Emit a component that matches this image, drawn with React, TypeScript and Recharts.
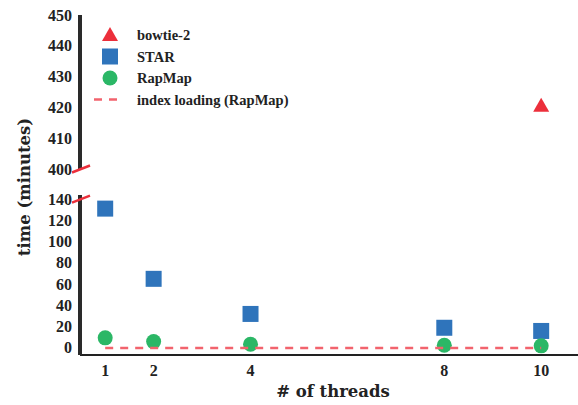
import React from "react";
import { ScatterChart, Scatter, XAxis, YAxis, Legend, Label } from "recharts";

// x = number of threads, y = wall time in minutes
const threads = [1, 2, 4, 8, 10];
const starTimes = [131, 65, 32, 19, 16];
const rapmapTimes = [9.5, 6, 3.5, 2.5, 2];
const bowtieThreads = [10];
const bowtieTimes = [420.5];
const indexLoadThreads = [1, 10];
const indexLoadTimes = [0, 0];

const upperTicks = [400, 410, 420, 430, 440, 450];
const lowerTicks = [0, 20, 40, 60, 80, 100, 120, 140];

const toPoints = (xs: number[], ys: number[]) => xs.map((x, i) => ({ x, y: ys[i] }));

const starData = toPoints(threads, starTimes);
const rapmapData = toPoints(threads, rapmapTimes);
const bowtieData = toPoints(bowtieThreads, bowtieTimes);
const indexData = toPoints(indexLoadThreads, indexLoadTimes);

const RED = "#ec2f3b";
const BLUE = "#2f74bb";
const GREEN = "#2bb766";
const PINK = "#f2636d";
const INK = "#222";
const FONT = "'Liberation Serif', serif";
const LABEL_FONT = "'DejaVu Serif', serif";

const X_DOMAIN: [number, number] = [0.48, 10.76];
const Y_AXIS_LINE = { stroke: "#2a2a2a", strokeWidth: 4 };

const Square = (p: any) => <rect x={p.cx - 8} y={p.cy - 8} width={16} height={16} fill={BLUE} />;
const Dot = (p: any) => <circle cx={p.cx} cy={p.cy} r={7.5} fill={GREEN} />;
const Tri = (p: any) => (
  <polygon points={`${p.cx},${p.cy - 8} ${p.cx + 8},${p.cy + 6} ${p.cx - 8},${p.cy + 6}`} fill={RED} />
);
const NoShape = () => <g />;

// tick label + the red "//" break mark on the panel edge
function BreakTick(props: any) {
  const { x, y, payload, breakAt } = props;
  return (
    <g>
      <text x={x} y={y} dy={5.5} textAnchor="end" fontFamily={FONT} fontWeight="bold" fontSize={16} fill={INK}>
        {payload.value}
      </text>
      {payload.value === breakAt && (
        <line x1={x} y1={y + 3.5} x2={x + 18} y2={y - 3.5} stroke={RED} strokeWidth={2.5} />
      )}
    </g>
  );
}

const legendItems = [
  { name: "bowtie-2", kind: "tri" },
  { name: "STAR", kind: "square" },
  { name: "RapMap", kind: "circle" },
  { name: "index loading (RapMap)", kind: "dash" },
];

function LegendBox() {
  return (
    <svg width={240} height={90} style={{ display: "block" }}>
      {legendItems.map((it, i) => {
        const cy = 10 + i * 21.5;
        const cx = 22;
        return (
          <g key={it.name}>
            {it.kind === "tri" && <Tri cx={cx} cy={cy} />}
            {it.kind === "square" && <Square cx={cx} cy={cy} />}
            {it.kind === "circle" && <Dot cx={cx} cy={cy} />}
            {it.kind === "dash" && (
              <line x1={cx - 16} y1={cy} x2={cx + 14} y2={cy} stroke={PINK} strokeWidth={2.5} strokeDasharray="8 7" />
            )}
            <text x={49} y={cy + 5} fontFamily={FONT} fontWeight="bold" fontSize={14.5} fill={INK}>
              {it.name}
            </text>
          </g>
        );
      })}
    </svg>
  );
}

export default function App() {
  return (
    <div style={{ position: "absolute", left: 0, top: 0, width: 578, height: 405, background: "#fff" }}>
      {/* upper panel: 400-450 */}
      <div style={{ position: "absolute", left: 0, top: 0 }}>
        <ScatterChart width={578} height={180} margin={{ top: 15, right: 0, bottom: 0, left: 0 }}>
          <XAxis
            type="number"
            dataKey="x"
            domain={X_DOMAIN}
            ticks={threads}
            allowDataOverflow
            height={11}
            axisLine={false}
            tick={false}
            tickSize={1}
            tickLine={{ stroke: "#555" }}
          />
          <YAxis
            type="number"
            dataKey="y"
            domain={[400, 450]}
            ticks={upperTicks}
            interval={0}
            allowDataOverflow
            width={80}
            axisLine={Y_AXIS_LINE}
            tickLine={false}
            tickSize={0}
            tickMargin={8}
            tick={<BreakTick breakAt={400} />}
          />
          <Legend
            layout="horizontal"
            verticalAlign="middle"
            align="center"
            content={() => <LegendBox />}
            wrapperStyle={{ left: 88, top: 25, width: 240 }}
          />
          <Scatter data={bowtieData} shape={Tri} isAnimationActive={false} />
        </ScatterChart>
      </div>
      {/* lower panel: 0-140 */}
      <div style={{ position: "absolute", left: 0, top: 0 }}>
        <ScatterChart width={578} height={405} margin={{ top: 195, right: 0, bottom: 0, left: 0 }}>
          <XAxis
            type="number"
            dataKey="x"
            domain={X_DOMAIN}
            ticks={threads}
            interval={0}
            allowDataOverflow
            height={50}
            axisLine={{ stroke: INK, strokeWidth: 2 }}
            tickLine={false}
            tickSize={0}
            tickMargin={10}
            tick={{ fontFamily: FONT, fontWeight: "bold", fontSize: 16, fill: INK }}
          >
            <Label
              value="# of threads"
              position="insideBottom"
              offset={8}
              dx={4}
              style={{ fontFamily: LABEL_FONT, fontWeight: "bold", fontSize: 16.5, fill: INK }}
            />
          </XAxis>
          <YAxis
            type="number"
            dataKey="y"
            domain={[-6.6, 143.8]}
            ticks={lowerTicks}
            interval={0}
            allowDataOverflow
            width={80}
            axisLine={Y_AXIS_LINE}
            tickLine={false}
            tickSize={0}
            tickMargin={8}
            tick={<BreakTick breakAt={140} />}
          >
            <Label
              content={() => (
                <text
                  x={0}
                  y={0}
                  transform="translate(30 187) rotate(-90)"
                  textAnchor="middle"
                  fontFamily={LABEL_FONT}
                  fontWeight="bold"
                  fontSize={16.5}
                  fill={INK}
                >
                  time (minutes)
                </text>
              )}
            />
          </YAxis>
          <Scatter data={starData} shape={Square} isAnimationActive={false} />
          <Scatter data={rapmapData} shape={Dot} isAnimationActive={false} />
          <Scatter
            data={indexData}
            shape={NoShape}
            line={{ stroke: PINK, strokeWidth: 2.5, strokeDasharray: "8 7" }}
            isAnimationActive={false}
          />
        </ScatterChart>
      </div>
    </div>
  );
}
